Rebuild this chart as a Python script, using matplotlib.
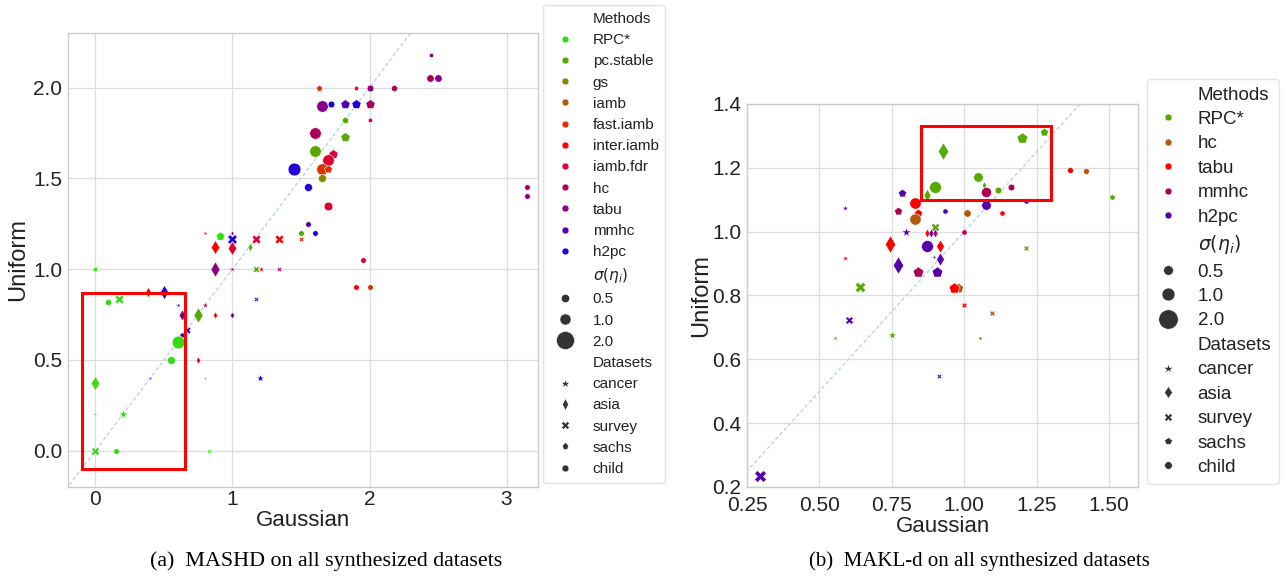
import numpy as np
import matplotlib
matplotlib.use("Agg")
import matplotlib.pyplot as plt
from matplotlib.lines import Line2D
from matplotlib.patches import Rectangle

plt.rcParams['font.family'] = ['Liberation Sans', 'DejaVu Sans']

# ---------------- data: (a) MASHD ----------------
left_methods = ["RPC*", "pc.stable", "gs", "iamb", "fast.iamb", "inter.iamb",
                "iamb.fdr", "hc", "tabu", "mmhc", "h2pc"]
datasets = ["cancer", "asia", "survey", "sachs", "child"]
sigma_levels = [0.5, 1.0, 2.0]

a_method = ["h2pc", "h2pc", "mmhc", "pc.stable", "inter.iamb", "inter.iamb", "RPC*", "h2pc", "tabu",
            "iamb.fdr", "inter.iamb", "inter.iamb", "iamb.fdr", "pc.stable", "tabu", "hc", "tabu",
            "pc.stable", "inter.iamb", "hc", "RPC*", "inter.iamb", "h2pc", "RPC*", "RPC*", "h2pc",
            "hc", "h2pc", "tabu", "pc.stable", "inter.iamb", "tabu", "h2pc", "mmhc", "RPC*", "RPC*",
            "iamb.fdr", "h2pc", "tabu", "h2pc", "RPC*", "RPC*", "RPC*", "RPC*", "RPC*", "RPC*",
            "tabu", "hc", "tabu", "fast.iamb", "inter.iamb", "tabu", "hc", "tabu", "h2pc", "mmhc",
            "h2pc", "hc", "pc.stable", "iamb.fdr", "hc", "pc.stable", "pc.stable", "iamb.fdr",
            "iamb.fdr", "fast.iamb", "fast.iamb", "gs", "iamb.fdr", "h2pc", "iamb.fdr",
            "inter.iamb", "fast.iamb", "hc", "tabu"]
a_dataset = ["child", "child", "child", "child", "survey", "cancer", "sachs", "survey", "asia",
             "survey", "survey", "asia", "asia", "asia", "asia", "cancer", "cancer",
             "survey", "cancer", "survey", "child", "asia", "asia", "child", "survey", "cancer",
             "cancer", "survey", "asia", "asia", "asia", "asia", "survey", "sachs", "child", "child",
             "asia", "cancer", "cancer", "cancer", "asia", "child", "cancer", "survey", "child", "survey",
             "child", "child", "child", "sachs", "child", "child", "child", "child", "child", "sachs",
             "sachs", "sachs", "sachs", "child", "child", "sachs", "child", "sachs",
             "child", "child", "sachs", "child", "child", "child", "child",
             "child", "child", "child", "child"]
a_gauss = [1.45, 1.55, 1.55, 1.50, 1.50, 0.80, 0.91, 1.00, 1.00,
           1.17, 1.34, 0.875, 1.00, 1.125, 0.875, 1.00, 1.00,
           1.17, 1.21, 1.34, 0.00, 0.38, 0.50, 0.095, 0.17, 0.60,
           0.80, 1.17, 0.63, 0.75, 0.875, 1.00, 0.67, 0.635, 0.60, 0.555,
           0.75, 0.40, 0.80, 1.20, 0.00, 0.00, 0.20, 0.00, 0.15, 0.83,
           2.45, 2.445, 2.50, 1.635, 1.905, 2.00, 2.18, 1.65, 1.72, 1.82,
           1.905, 2.00, 1.82, 2.00, 1.60, 1.82, 1.60, 1.73,
           1.70, 1.65, 1.70, 1.65, 1.70, 1.60, 1.95,
           1.90, 2.00, 3.15, 3.15]
a_unif = [1.55, 1.45, 1.25, 1.20, 1.165, 1.20, 1.18, 1.165, 1.20,
          1.165, 1.165, 1.12, 1.115, 1.12, 1.00, 1.00, 1.00,
          1.00, 1.00, 1.00, 1.00, 0.875, 0.875, 0.82, 0.835, 0.80,
          0.80, 0.835, 0.75, 0.75, 0.75, 0.75, 0.665, 0.635, 0.60, 0.50,
          0.50, 0.40, 0.40, 0.40, 0.37, 0.20, 0.20, 0.00, 0.00, 0.00,
          2.18, 2.05, 2.05, 2.00, 2.00, 2.00, 2.00, 1.90, 1.91, 1.91,
          1.91, 1.91, 1.82, 1.82, 1.75, 1.73, 1.65, 1.635,
          1.60, 1.55, 1.55, 1.50, 1.35, 1.20, 1.05,
          0.90, 0.90, 1.45, 1.40]
a_sigma = [1.2, 0.5, 0.3, 0.3, 0.2, 0.2, 0.6, 0.7, 0.1,
           0.6, 0.6, 0.6, 0.6, 0.25, 0.7, 0.4, 0.2,
           0.35, 0.3, 0.2, 0.2, 0.35, 0.6, 0.35, 0.6, 0.2,
           0.3, 0.2, 0.4, 0.7, 0.2, 0.2, 0.4, 0.3, 1.2, 0.5,
           0.2, 0.15, 0.05, 0.4, 0.6, 0.03, 0.5, 0.5, 0.3, 0.15,
           0.2, 0.45, 0.45, 0.35, 0.2, 0.4, 0.35, 1.0, 0.4, 0.7,
           0.7, 0.7, 0.4, 0.2, 1.0, 0.7, 1.0, 0.7,
           1.0, 1.0, 0.5, 0.5, 0.6, 0.3, 0.3,
           0.3, 0.3, 0.3, 0.3]

# ---------------- data: (b) MAKL-d ----------------
right_methods = ["RPC*", "hc", "tabu", "mmhc", "h2pc"]
b_method = ["hc", "RPC*", "RPC*", "RPC*", "h2pc", "tabu", "mmhc", "hc", "tabu", "h2pc", "h2pc",
            "RPC*", "tabu", "h2pc", "mmhc", "tabu", "h2pc", "tabu", "h2pc", "h2pc", "h2pc",
            "mmhc", "h2pc", "tabu", "RPC*", "h2pc", "RPC*", "RPC*", "h2pc", "h2pc",
            "RPC*", "RPC*", "tabu", "hc", "RPC*", "RPC*", "mmhc", "RPC*", "mmhc", "RPC*",
            "h2pc", "h2pc", "h2pc", "hc", "tabu", "mmhc", "RPC*", "tabu", "hc", "RPC*"]
b_dataset = ["sachs", "asia", "child", "asia", "sachs", "sachs", "sachs", "child", "child", "cancer", "cancer",
             "survey", "asia", "asia", "asia", "asia", "child", "asia", "asia", "cancer", "asia",
             "sachs", "sachs", "cancer", "survey", "survey", "cancer", "cancer", "survey", "survey",
             "sachs", "sachs", "child", "child", "child", "asia", "child", "child", "child", "child",
             "child", "child", "child", "child", "child", "child", "survey", "survey", "survey", "child"]
b_gauss = [0.98, 0.925, 0.90, 0.87, 0.785, 0.84, 0.77, 0.83, 0.83, 0.59, 0.80,
           0.90, 0.87, 0.885, 0.90, 0.745, 0.87, 0.915, 0.77, 0.895, 0.915,
           0.84, 0.905, 0.59, 0.64, 0.602, 0.553, 0.75, 0.912, 0.295,
           1.20, 1.274, 1.364, 1.419, 1.047, 1.067, 1.074, 1.115, 1.16, 1.512,
           1.212, 1.074, 0.933, 1.008, 1.13, 1.00, 1.212, 1.00, 1.095, 1.053]
b_unif = [0.822, 1.253, 1.14, 1.115, 1.12, 1.06, 1.066, 1.04, 1.09, 1.075, 1.00,
          1.015, 0.995, 0.995, 0.995, 0.962, 0.956, 0.956, 0.897, 0.92, 0.913,
          0.875, 0.875, 0.918, 0.828, 0.722, 0.666, 0.675, 0.547, 0.234,
          1.294, 1.313, 1.194, 1.189, 1.17, 1.145, 1.125, 1.131, 1.141, 1.11,
          1.097, 1.084, 1.066, 1.06, 1.06, 1.00, 0.95, 0.769, 0.744, 0.666]
b_sigma = [0.6, 0.7, 0.9, 0.35, 0.4, 0.4, 0.4, 0.8, 0.8, 0.2, 0.4,
           0.4, 0.2, 0.2, 0.2, 0.7, 0.9, 0.4, 0.7, 0.12, 0.4,
           0.7, 0.7, 0.2, 0.6, 0.35, 0.15, 0.35, 0.15, 0.8,
           0.7, 0.4, 0.25, 0.25, 0.5, 0.15, 0.6, 0.3, 0.3, 0.2,
           0.2, 0.5, 0.2, 0.35, 0.2, 0.2, 0.2, 0.2, 0.2, 0.05]
b_tabu_sachs = (0.964, 0.825, 0.7)

# ---------------- styles ----------------
left_colors = {"RPC*": "#33dd11", "pc.stable": "#55aa00", "gs": "#888800", "iamb": "#b05a10",
               "fast.iamb": "#dd3300", "inter.iamb": "#ff0000", "iamb.fdr": "#dd0033",
               "hc": "#aa0055", "tabu": "#880088", "mmhc": "#5500aa", "h2pc": "#2200dd"}
right_colors = {"RPC*": "#55aa00", "hc": "#b05a10", "tabu": "#ff0000",
                "mmhc": "#aa0055", "h2pc": "#5500aa"}
markers = {"cancer": "*", "asia": "d", "survey": "X", "sachs": "p", "child": "o"}
marker_scale = {"cancer": 1.25, "asia": 1.15, "survey": 1.05, "sachs": 1.05, "child": 1.0}


def sizes_from_sigma(sig, diam_px):
    d = np.interp(sig, [0.0, 0.5, 1.0, 2.0], diam_px)
    return (d * 0.72) ** 2


fig = plt.figure(figsize=(12.86, 5.79), dpi=100)
axL = fig.add_axes([0.0529, 0.1589, 0.3655, 0.784])
axR = fig.add_axes([0.5809, 0.1589, 0.3040, 0.6615])

for ax in (axL, axR):
    ax.set_facecolor("white")
    ax.grid(True, color="#dddddd", linewidth=0.9, zorder=0)
    ax.set_axisbelow(True)
    for sp in ax.spines.values():
        sp.set_color("#cccccc")
        sp.set_linewidth(1.0)
    ax.tick_params(length=0, labelsize=15, colors="#222222")
    ax.tick_params(axis="y", pad=4)
axL.tick_params(axis="x", pad=2)
axR.tick_params(axis="x", pad=6.5)

# ---- left plot ----
diamL = [2.0, 8.0, 11.5, 18.0]
axL.plot([-0.3, 3.5], [-0.3, 3.5], linestyle=(0, (3, 2)), color="#b9cfe8", linewidth=0.9, zorder=1.5)
for m, d, x, y, s in zip(a_method, a_dataset, a_gauss, a_unif, a_sigma):
    axL.scatter([x], [y], s=sizes_from_sigma(s, diamL) * marker_scale[d] ** 2,
                marker=markers[d], color=left_colors[m], edgecolors="white", linewidths=0.4, zorder=3)
axL.add_patch(Rectangle((-0.1, -0.1), 0.75, 0.97, fill=False, edgecolor="#ff0000", linewidth=2.2, zorder=5))
axL.set_xlim(-0.2, 3.23)
axL.set_ylim(-0.2, 2.3)
axL.set_xticks([0, 1, 2, 3])
axL.set_yticks([0.0, 0.5, 1.0, 1.5, 2.0])
axL.set_yticklabels(["0.0", "0.5", "1.0", "1.5", "2.0"])
axL.set_xlabel("Gaussian", fontsize=16, color="#222222", labelpad=1)
axL.set_ylabel("Uniform", fontsize=17, color="#222222", labelpad=3)

# ---- right plot ----
diamR = [2.5, 9.5, 12.5, 19.0]
axR.plot([0.0, 2.0], [0.0, 2.0], linestyle=(0, (3, 2)), color="#b9cfe8", linewidth=0.9, zorder=1.5)
for m, d, x, y, s in zip(b_method, b_dataset, b_gauss, b_unif, b_sigma):
    axR.scatter([x], [y], s=sizes_from_sigma(s, diamR) * marker_scale[d] ** 2,
                marker=markers[d], color=right_colors[m], edgecolors="white", linewidths=0.4, zorder=3)
axR.scatter([b_tabu_sachs[0]], [b_tabu_sachs[1]], s=sizes_from_sigma(b_tabu_sachs[2], diamR) * 1.1,
            marker="p", color=right_colors["tabu"], edgecolors="white", linewidths=0.4, zorder=3)
axR.add_patch(Rectangle((0.85, 1.10), 0.45, 0.23, fill=False, edgecolor="#ff0000", linewidth=2.2, zorder=5))
axR.set_xlim(0.25, 1.6)
axR.set_ylim(0.2, 1.4)
axR.set_xticks([0.25, 0.50, 0.75, 1.00, 1.25, 1.50])
axR.set_xticklabels(["0.25", "0.50", "0.75", "1.00", "1.25", "1.50"])
axR.set_yticks([0.2, 0.4, 0.6, 0.8, 1.0, 1.2, 1.4])
axR.set_yticklabels(["0.2", "0.4", "0.6", "0.8", "1.0", "1.2", "1.4"])
axR.set_xlabel("Gaussian", fontsize=16, color="#222222", labelpad=1)
axR.set_ylabel("Uniform", fontsize=17, color="#222222", labelpad=0)


# ---- legends ----
def build_legend(methods, colors, dot_ms, size_ms, ds_ms):
    hs, ls = [], []
    blank = Line2D([], [], linestyle="", marker="")
    hs.append(blank); ls.append("Methods")
    for m in methods:
        hs.append(Line2D([], [], linestyle="", marker="o", markersize=dot_ms,
                         markerfacecolor=colors[m], markeredgecolor="white", markeredgewidth=0.4))
        ls.append(m)
    hs.append(blank); ls.append(r"$\sigma(\eta_i)$")
    for lv, ms in zip(sigma_levels, size_ms):
        hs.append(Line2D([], [], linestyle="", marker="o", markersize=ms,
                         markerfacecolor="#333333", markeredgecolor="white", markeredgewidth=0.4))
        ls.append(f"{lv:.1f}")
    hs.append(blank); ls.append("Datasets")
    for d in datasets:
        hs.append(Line2D([], [], linestyle="", marker=markers[d], markersize=ds_ms * marker_scale[d],
                         markerfacecolor="#333333", markeredgecolor="white", markeredgewidth=0.4))
        ls.append(d)
    return hs, ls


hL, lL = build_legend(left_methods, left_colors, 5.0, [6.0, 8.0, 13.0], 5.0)
legL = fig.legend(hL, lL, loc="upper left", bbox_to_anchor=(0.4222, 0.991), borderaxespad=0,
                  fontsize=11, labelspacing=0.47, handlelength=2.0, handletextpad=0.8,
                  frameon=True, fancybox=True, edgecolor="#dddddd", borderpad=0.45)
for t in legL.get_texts():
    t.set_color("#222222")

hR, lR = build_legend(right_methods, right_colors, 5.0, [7.0, 9.3, 14.0], 5.5)
legR = fig.legend(hR, lR, loc="upper left", bbox_to_anchor=(0.892, 0.8636), borderaxespad=0,
                  fontsize=13.5, labelspacing=0.39, handlelength=1.45, handletextpad=0.85,
                  frameon=True, fancybox=True, edgecolor="#dddddd", borderpad=0.4)
for t in legR.get_texts():
    t.set_color("#222222")

# ---- captions ----
fig.text(0.2535, 0.023, "(a)  MASHD on all synthesized datasets", ha="center", va="baseline",
         fontsize=15.8, family="Liberation Serif", color="black")
fig.text(0.762, 0.023, "(b)  MAKL-d on all synthesized datasets", ha="center", va="baseline",
         fontsize=15, family="Liberation Serif", color="black")

fig.savefig("out.png", dpi=100)
